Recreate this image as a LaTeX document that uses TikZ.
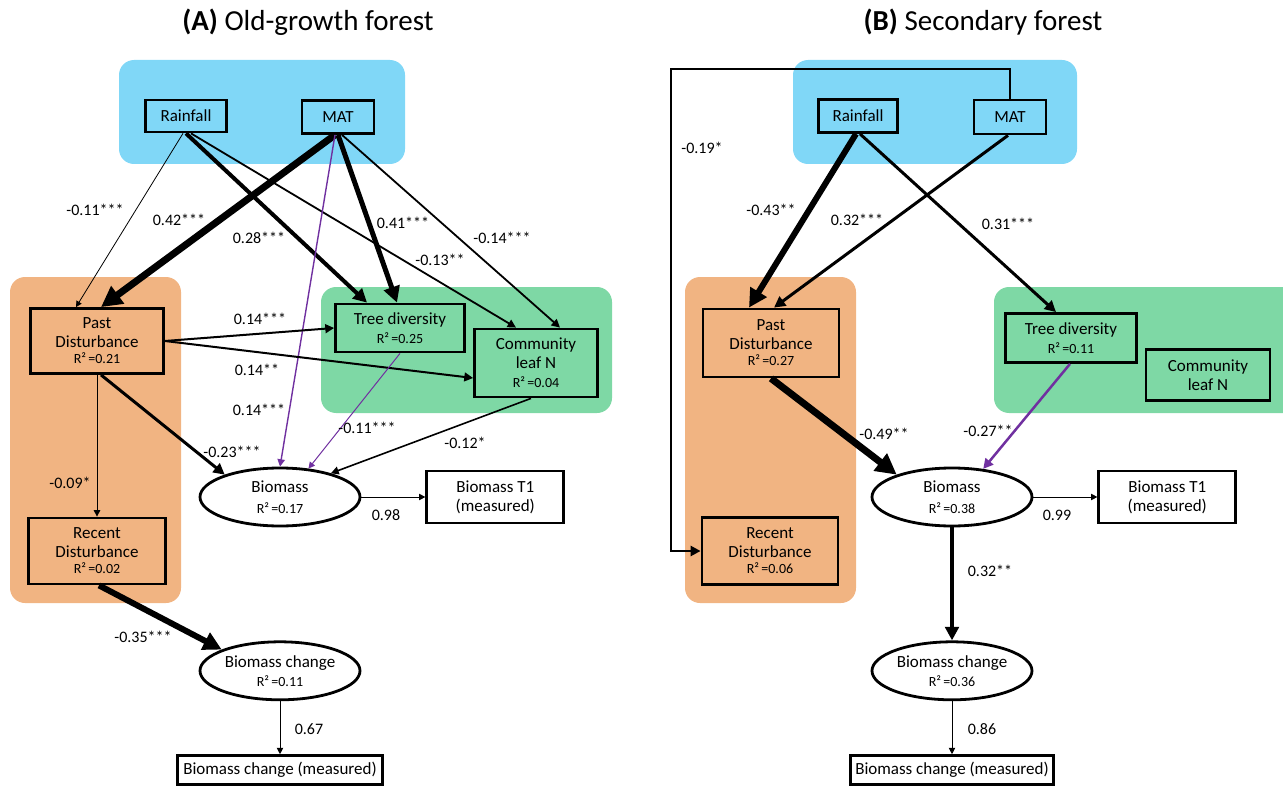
\documentclass[tikz,border=0pt]{standalone}
\usepackage{fontspec}
\setmainfont{Carlito}
\usetikzlibrary{shapes,arrows.meta,positioning}
\definecolor{clima}{RGB}{128,215,247}
\definecolor{disturb}{RGB}{241,180,130}
\definecolor{biotic}{RGB}{126,216,165}
\definecolor{negpath}{RGB}{112,48,160}
\newcommand{\rsq}[1]{{\fontsize{14}{16}\selectfont R²\,=#1}}

\begin{document}
\begin{tikzpicture}[x=1pt, y=-1pt, >={Triangle[length=4pt 2.4, width=4pt 2.4]},
  font=\fontsize{17}{19}\selectfont,
  var/.style={rectangle, draw, line width=2.8pt, align=center, inner sep=1pt},
  lat/.style={ellipse, draw, line width=2.8pt, align=center, minimum width=160pt, minimum height=58pt, inner sep=0pt},
  coef/.style={font=\fontsize{16}{18}\selectfont, inner sep=1pt},
  ttl/.style={font=\fontsize{29}{32}\selectfont},
  grp/.style={rounded corners=15pt}]
  \useasboundingbox (0,0) rectangle (1283,789);
  \clip (0,0) rectangle (1283,789);
  % group panels
  \fill[clima, grp] (119,60) rectangle (405,164);
  \fill[disturb, grp] (10,277) rectangle (181,603);
  \fill[biotic, grp] (321,287) rectangle (612,413);
  \fill[clima, grp] (793,60) rectangle (1077,164);
  \fill[disturb, grp] (685,277) rectangle (856,603);
  \fill[biotic, grp] (994,287) rectangle (1300,413);

  % (A) old-growth forest
  \node[ttl] (titleA) at (308,22) {\textbf{(A)} Old-growth forest};
  \node[var, minimum width=81pt, minimum height=32pt] (rainA) at (186,116) {Rainfall};
  \node[var, minimum width=72pt, minimum height=33pt] (matA) at (338,117) {MAT};
  \node[var, minimum width=133pt, minimum height=65pt] (pastA) at (97,341) {Past\\Disturbance\\[-3pt]\rsq{0.21}};
  \node[var, minimum width=129pt, minimum height=48pt] (treeA) at (400,328) {Tree diversity\\\rsq{0.25}};
  \node[var, minimum width=123pt, minimum height=68pt] (leafA) at (536,363) {Community\\leaf N\\\rsq{0.04}};
  \node[lat] (bioA) at (280,497) {Biomass\\[2pt]\rsq{0.17}};
  \node[var, minimum width=137pt, minimum height=52pt, right=64pt of bioA] (t1A) {Biomass T1\\(measured)};
  \node[var, minimum width=137pt, minimum height=66pt] (recA) at (97,551) {Recent\\Disturbance\\[-3pt]\rsq{0.02}};
  \node[lat, below=113pt of bioA] (chgA) {Biomass change\\\rsq{0.11}};
  \node[var, minimum width=205pt, minimum height=29pt, below=53pt of chgA] (chmA) {Biomass change (measured)};

  \draw[->, line width=0.8pt] ([xshift=-3pt]rainA.south) -- ([xshift=-21pt]pastA.north);
  \draw[->, line width=4pt] (rainA.south) -- ([xshift=-33pt]treeA.north);
  \draw[->, line width=1.8pt] ([xshift=5pt]rainA.south) -- ([xshift=-20pt]leafA.north);
  \draw[->, line width=7pt] ([xshift=-3pt]matA.south) -- ([xshift=4pt]pastA.north);
  \draw[->, line width=5pt] (matA.south) -- ([xshift=-3pt]treeA.north);
  \draw[->, line width=1.8pt] ([xshift=4pt]matA.south) -- ([xshift=24pt]leafA.north);
  \draw[->, negpath, line width=1.4pt] ([xshift=-3pt]matA.south) -- (bioA.90);
  \draw[->, line width=2pt] (pastA.east) -- (treeA.west);
  \draw[->, line width=2pt] (pastA.east) -- ([yshift=-15pt]leafA.west);
  \draw[->, line width=3pt] ([xshift=4pt]pastA.south) -- (bioA.158);
  \draw[->, line width=1pt] (pastA.south) -- (recA.north);
  \draw[->, negpath, line width=1pt] (treeA.south) -- (bioA.45);
  \draw[->, line width=1.6pt] ([xshift=-5pt]leafA.south) -- (bioA.25);
  \draw[->, line width=6pt] ([xshift=2pt]recA.south) -- (chgA.160);
  \draw[->, line width=1pt] (bioA.east) -- (t1A.west);
  \draw[->, line width=1pt] (chgA.south) -- (chmA.north);

  \node[coef] (cRainPastA) at (95,210) {-0.11***};
  \node[coef] (cMatPastA) at (179,220) {0.42***};
  \node[coef] (cRainTreeA) at (259,238) {0.28***};
  \node[coef] (cMatTreeA) at (403,223) {0.41***};
  \node[coef] (cMatLeafA) at (502,238) {-0.14***};
  \node[coef] (cRainLeafA) at (440,260) {-0.13**};
  \node[coef] (cPastTreeA) at (260,319) {0.14***};
  \node[coef] (cPastLeafA) at (257,370) {0.14**};
  \node[coef] (cMatBioA) at (259,410) {0.14***};
  \node[coef] (cTreeBioA) at (367,428) {-0.11***};
  \node[coef] (cLeafBioA) at (465,443) {-0.12*};
  \node[coef] (cPastBioA) at (232,452) {-0.23***};
  \node[coef] (cPastRecA) at (70,483) {-0.09*};
  \node[coef] (cBioT1A) at (386,515) {0.98};
  \node[coef] (cRecChgA) at (143,637) {-0.35***};
  \node[coef] (cChgMeasA) at (309,729) {0.67};

  % (B) secondary forest
  \node[ttl] (titleB) at (983,22) {\textbf{(B)} Secondary forest};
  \node[var, minimum width=79pt, minimum height=33pt] (rainB) at (858,116) {Rainfall};
  \node[var, minimum width=72pt, minimum height=34pt] (matB) at (1010,117) {MAT};
  \node[var, minimum width=136pt, minimum height=68pt] (pastB) at (771,343) {Past\\Disturbance\\[-3pt]\rsq{0.27}};
  \node[var, minimum width=131pt, minimum height=49pt] (treeB) at (1071,338) {Tree diversity\\\rsq{0.11}};
  \node[var, minimum width=124pt, minimum height=51pt] (leafB) at (1208,375) {Community\\leaf N};
  \node[lat] (bioB) at (952,497) {Biomass\\[2pt]\rsq{0.38}};
  \node[var, minimum width=137pt, minimum height=52pt, right=64pt of bioB] (t1B) {Biomass T1\\(measured)};
  \node[var, minimum width=136pt, minimum height=67pt] (recB) at (770,551) {Recent\\Disturbance\\[-3pt]\rsq{0.06}};
  \node[lat, below=113pt of bioB] (chgB) {Biomass change\\\rsq{0.36}};
  \node[var, minimum width=203pt, minimum height=29pt, below=53pt of chgB] (chmB) {Biomass change (measured)};
  \coordinate (loopB) at (671,69);

  \draw[->, line width=6pt] ([xshift=-2pt]rainB.south) -- ([xshift=-22pt]pastB.north);
  \draw[->, line width=3pt] ([xshift=2pt]rainB.south) -- ([xshift=-15pt]treeB.north);
  \draw[->, line width=3pt] ([xshift=-2pt]matB.south) -- ([xshift=3pt]pastB.north);
  \draw[->, line width=2.5pt] (matB.north) |- (loopB) |- (recB.west);
  \draw[->, line width=7pt] (pastB.south) -- (bioB.158);
  \draw[->, negpath, line width=2.5pt] ([xshift=-1pt]treeB.south) -- (bioB.42);
  \draw[->, line width=1pt] (bioB.east) -- (t1B.west);
  \draw[->, line width=4pt] (bioB.south) -- (chgB.north);
  \draw[->, line width=1pt] (chgB.south) -- (chmB.north);

  \node[coef] (cMatRecB) at (702,148) {-0.19*};
  \node[coef] (cRainPastB) at (771,210) {-0.43**};
  \node[coef] (cMatPastB) at (857,220) {0.32***};
  \node[coef] (cRainTreeB) at (1008,224) {0.31***};
  \node[coef] (cPastBioB) at (884,434) {-0.49**};
  \node[coef] (cTreeBioB) at (988,431) {-0.27**};
  \node[coef] (cBioT1B) at (1057,515) {0.99};
  \node[coef] (cBioChgB) at (990,571) {0.32**};
  \node[coef] (cChgMeasB) at (982,729) {0.86};
\end{tikzpicture}
\end{document}
